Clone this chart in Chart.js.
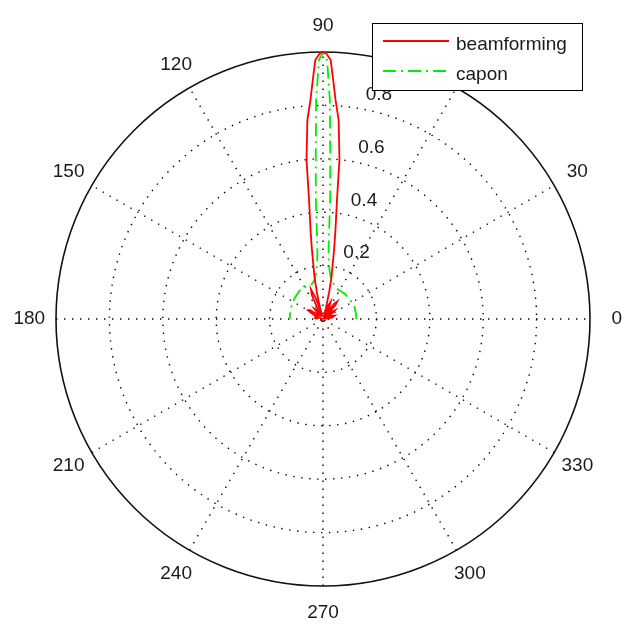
<!DOCTYPE html>
<html>
<head>
<meta charset="utf-8">
<script src="https://cdn.jsdelivr.net/npm/chart.js@4/dist/chart.umd.min.js"></script>
<style>
  html, body { margin: 0; padding: 0; background: #ffffff; }
  #wrap { width: 622px; height: 627px; position: relative; }
</style>
</head>
<body>
<div id="wrap"><canvas id="c"></canvas></div>
<script>
// Spatial spectra (normalised), angle in degrees, rho linear 0..1
const bfAngles = [0, 5, 10, 16, 22, 27, 32, 36, 40, 44, 48, 51, 54, 58, 62, 66, 70, 73, 75, 77, 78.5, 81.0, 82.0, 83.3, 84.1, 85.5, 86.7, 87.6, 88.3, 89.3, 90,
                  90.7, 91.7, 92.4, 93.3, 94.5, 95.9, 96.7, 98.0, 99.0, 101.5, 103, 104.5, 106, 107.5, 109, 112, 115, 118, 121, 125, 130, 135, 140, 146, 150, 155, 160, 167, 174, 180];
const bfRho    = [0.02, 0.015, 0.035, 0.045, 0.03, 0.01, 0.04, 0.055, 0.04, 0.02, 0.07, 0.085, 0.07, 0.02, 0.05, 0.07, 0.05, 0.005, 0.04, 0.1, 0.16, 0.267, 0.334, 0.448, 0.6, 0.747, 0.82, 0.9, 0.97, 0.995, 1.0,
                  0.995, 0.97, 0.9, 0.82, 0.747, 0.6, 0.448, 0.334, 0.267, 0.16, 0.1, 0.05, 0.01, 0.04, 0.08, 0.12, 0.1, 0.04, 0.01, 0.04, 0.05, 0.02, 0.02, 0.06, 0.065, 0.04, 0.01, 0.03, 0.03, 0.02];

const caponAngles = [0, 10, 20, 30, 40, 50, 63, 70, 74, 79, 82, 84, 85.4, 86, 86.6, 87.4, 88, 88.2, 89.1, 90,
                     90.9, 91.8, 92, 92.6, 93.4, 94, 94.6, 96, 98, 101, 106, 110, 118, 128, 140, 150, 161, 170, 180];
const caponRho    = [0.125, 0.125, 0.126, 0.125, 0.124, 0.125, 0.124, 0.13, 0.14, 0.155, 0.18, 0.21, 0.26, 0.33, 0.45, 0.6, 0.75, 0.82, 0.97, 1.0,
                     0.97, 0.82, 0.75, 0.6, 0.45, 0.33, 0.26, 0.21, 0.18, 0.155, 0.14, 0.135, 0.137, 0.139, 0.133, 0.13, 0.127, 0.125, 0.125];

const seriesNames = ['beamforming', 'capon'];
const angleTicks  = [0, 30, 60, 90, 120, 150, 180, 210, 240, 270, 300, 330];
const radiusTicks = [0.2, 0.4, 0.6, 0.8, 1];

function toXY(angles, rhos) {
  return angles.map((a, i) => {
    const t = a * Math.PI / 180;
    return { x: rhos[i] * Math.cos(t), y: rhos[i] * Math.sin(t) };
  });
}

const FONT = '19px "Liberation Sans", Arial, sans-serif';

// Polar frame: dotted rings and spokes, solid rim, angle and radius labels
const polarFrame = {
  id: 'polarFrame',
  beforeDatasetsDraw(chart) {
    const ctx = chart.ctx, xs = chart.scales.x, ys = chart.scales.y;
    const cx = xs.getPixelForValue(0), cy = ys.getPixelForValue(0);
    const R = xs.getPixelForValue(1) - cx;
    ctx.save();
    ctx.fillStyle = '#ffffff';
    ctx.beginPath(); ctx.arc(cx, cy, R, 0, 2 * Math.PI); ctx.fill();

    ctx.strokeStyle = '#000';
    ctx.lineWidth = 1.4;
    ctx.setLineDash([1.4, 6.6]);
    radiusTicks.slice(0, -1).forEach(r => {
      ctx.beginPath();
      ctx.arc(cx, cy, xs.getPixelForValue(r) - cx, 0, 2 * Math.PI);
      ctx.stroke();
    });
    angleTicks.filter(a => a < 180).forEach(a => {
      const t = a * Math.PI / 180;
      ctx.beginPath();
      ctx.moveTo(xs.getPixelForValue(-Math.cos(t)), ys.getPixelForValue(-Math.sin(t)));
      ctx.lineTo(xs.getPixelForValue(Math.cos(t)), ys.getPixelForValue(Math.sin(t)));
      ctx.stroke();
    });
    ctx.setLineDash([]);
    ctx.strokeStyle = '#111';
    ctx.lineWidth = 1.6;
    ctx.beginPath(); ctx.arc(cx, cy, R, 0, 2 * Math.PI); ctx.stroke();

    ctx.fillStyle = '#1a1a1a';
    ctx.font = FONT;
    ctx.textAlign = 'center';
    ctx.textBaseline = 'middle';
    angleTicks.forEach(a => {
      const t = a * Math.PI / 180;
      ctx.fillText(String(a), xs.getPixelForValue(1.1 * Math.cos(t)), ys.getPixelForValue(1.1 * Math.sin(t)));
    });
    ctx.textAlign = 'left';
    ctx.textBaseline = 'alphabetic';
    const t82 = 82 * Math.PI / 180;
    radiusTicks.forEach(r => {
      const rr = r + 0.01;
      const px = xs.getPixelForValue(rr * Math.cos(t82));
      const py = ys.getPixelForValue(rr * Math.sin(t82));
      ctx.fillText('  ' + (r === 1 ? '1' : r.toFixed(1)), px + 2, py - 5);
    });
    ctx.restore();
  },
  afterDraw(chart) {
    // legend box in the upper right corner
    const ctx = chart.ctx;
    const bx = 372.5, by = 23.5, bw = 210, bh = 67;
    ctx.save();
    ctx.fillStyle = '#ffffff';
    ctx.fillRect(bx, by, bw, bh);
    ctx.strokeStyle = '#000';
    ctx.lineWidth = 1;
    ctx.strokeRect(bx, by, bw, bh);
    ctx.font = FONT;
    ctx.textBaseline = 'alphabetic';
    ctx.textAlign = 'left';
    chart.data.datasets.forEach((ds, i) => {
      const ly = 41 + i * 30;
      ctx.strokeStyle = ds.borderColor;
      ctx.lineWidth = ds.borderWidth;
      ctx.setLineDash(ds.borderDash || []);
      ctx.beginPath(); ctx.moveTo(383, ly); ctx.lineTo(449, ly); ctx.stroke();
      ctx.setLineDash([]);
      ctx.fillStyle = '#1a1a1a';
      ctx.fillText(ds.label, 456, ly + 9);
    });
    ctx.restore();
  }
};

new Chart(document.getElementById('c'), {
  type: 'scatter',
  data: {
    datasets: [
      { label: seriesNames[0], data: toXY(bfAngles, bfRho), showLine: true, borderColor: '#ff0000',
        borderWidth: 1.8, pointRadius: 0, tension: 0, fill: false },
      { label: seriesNames[1], data: toXY(caponAngles, caponRho), showLine: true, borderColor: '#00ee00',
        borderWidth: 1.8, borderDash: [13, 5, 2, 5], pointRadius: 0, tension: 0, fill: false }
    ]
  },
  options: {
    responsive: true,
    maintainAspectRatio: false,
    animation: false,
    layout: { padding: { left: 56, right: 32, top: 52, bottom: 41 } },
    scales: {
      x: { type: 'linear', min: -1, max: 1, display: false },
      y: { type: 'linear', min: -1, max: 1, display: false }
    },
    plugins: { legend: { display: false }, tooltip: { enabled: false } }
  },
  plugins: [polarFrame]
});
</script>
</body>
</html>
